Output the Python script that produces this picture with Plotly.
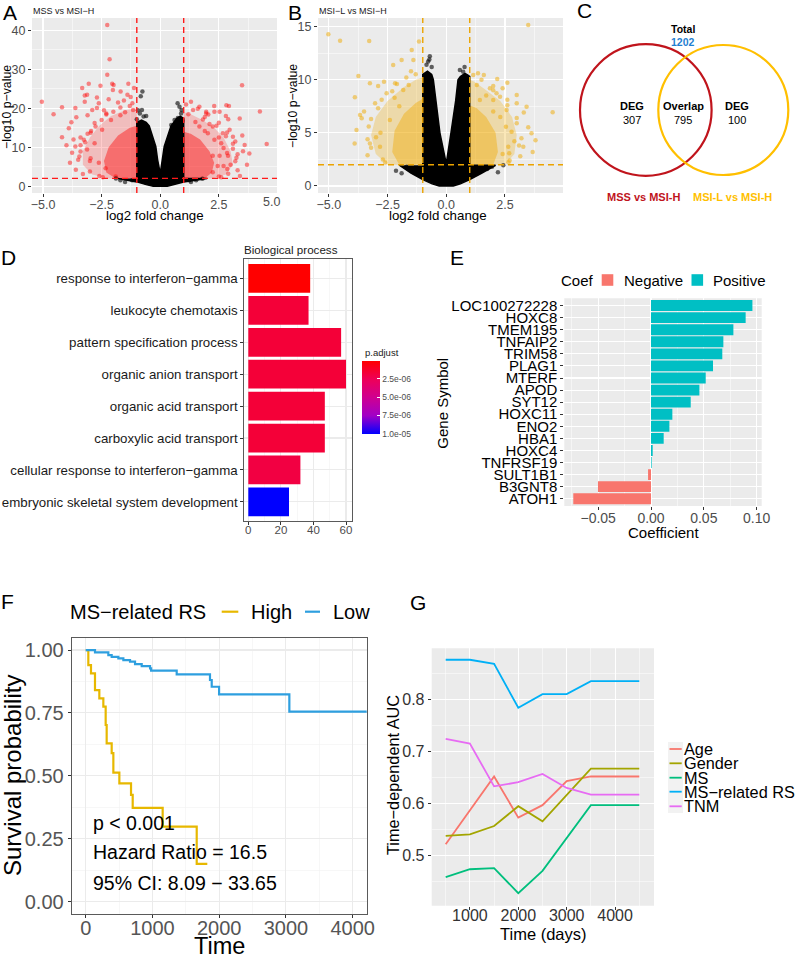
import plotly.graph_objects as go

W, H = 797, 959
FONT = "Liberation Sans, Arial, Helvetica, sans-serif"
MINUS = "\u2212"

# ======================= DATA =======================
# ---- A: volcano MSS vs MSI-H ----
a_fc_cut = [-1.0, 1.0]
a_p_cut = 2.0
a_sig_fc = [-5.05, -4.55, -4.19, -4.19, -3.90, -3.79, -3.62, -3.58, -3.33, -3.22, -3.12, -3.05, -2.55,
            -2.26, -2.16, -2.26, -2.05, -2.02, -1.69, -1.99, -1.36, -1.12, -1.26, -1.19, -1.16, -3.22,
            -2.90, -2.62, -2.30, -3.62, -3.40, -3.76, -3.12, -3.26, -2.97, -2.76, -2.48, -2.97, -2.62,
            -2.33, -1.90, -2.80, -3.00, -2.10, -1.50, -2.40, -3.40, -1.80, -1.40, -2.70, -1.70,
            -3.50, -3.40, -3.10, -2.80, -2.30, -1.70, -3.00, -2.60,
            -3.60, -3.45, -3.20, -2.95, -2.50, -2.00, -1.30, -2.70, -3.10, -3.70, -3.30, -2.45,
            -4.00, -3.85, -1.55, -2.20,
            4.25, 4.54, 3.49, 3.60, 3.53, 3.39, 2.93, 2.82, 2.53, 2.31, 1.96, 1.67, 1.31, 1.96, 2.85,
            2.89, 2.86, 2.45, 2.53, 2.24, 2.03, 2.24, 1.82, 1.67, 2.31, 2.60, 2.67, 2.96, 3.10, 2.70,
            2.24, 1.50, 2.10, 1.20, 2.50, 3.30, 3.00, 1.90, 2.70, 3.20, 2.90,
            3.20, 3.10, 2.80, 2.40, 1.90, 1.40, 2.90, 2.50,
            3.30, 3.25, 3.10, 2.85, 2.50, 2.05, 1.60, 2.80, 3.50, 3.40, 2.60, 3.80, 3.70, 1.10, 2.30]
a_sig_p = [21.7, 18.5, 20.3, 12.6, 14.9, 16.4, 20.1, 17.7, 25.2, 23.3, 23.5, 26.3, 25.8,
           41.4, 32.6, 28.6, 26.3, 24.7, 24.3, 26.0, 26.3, 25.2, 22.9, 21.3, 19.6, 21.7,
           19.6, 21.3, 18.7, 10.2, 8.9, 8.6, 9.4, 11.9, 13.7, 15.3, 14.5, 7.2, 6.0,
           4.6, 2.5, 11.0, 6.5, 17.0, 19.0, 19.5, 12.5, 21.5, 23.5, 22.8, 18.2,
           6.8, 10.5, 13.5, 16.2, 18.4, 20.2, 3.8, 2.6,
           4.2, 7.6, 11.3, 14.2, 17.0, 19.1, 20.6, 20.1, 18.2, 12.0, 3.1, 2.3,
           10.5, 6.0, 22.0, 22.3,
           19.2, 10.85, 25.9, 10.6, 9.0, 17.4, 20.6, 20.8, 19.1, 19.1, 19.1, 20.4, 21.7, 18.7, 8.5,
           7.8, 4.4, 5.2, 7.8, 7.8, 13.6, 15.3, 17.1, 15.3, 11.9, 11.0, 13.6, 14.5, 12.7, 5.2,
           3.6, 16.5, 16.0, 18.5, 12.5, 8.2, 5.5, 14.2, 9.8, 11.5, 17.2,
           6.4, 9.6, 12.8, 15.5, 17.8, 19.6, 3.2, 2.5,
           4.1, 7.3, 10.9, 13.8, 16.3, 18.4, 19.9, 18.0, 13.0, 2.6, 2.3, 8.4, 5.5, 21.0, 20.6]
a_ns_fc = [-0.76, -0.83, -0.78, -0.87, -0.71, -1.00, 0.74, 0.82, 0.89, 0.61, 0.91, 0.47,
           -1.89, -1.70, -1.50, 1.24, 1.31, 1.53, -0.95, -0.60, 0.75, 0.95, 1.80, -1.20]
a_ns_p = [24.3, 23.1, 19.6, 18.7, 17.9, 17.2, 21.3, 20.4, 18.7, 17.0, 19.6, 15.7,
          1.98, 1.55, 1.10, 1.55, 1.10, 1.55, 19.5, 18.0, 17.5, 16.8, 1.9, 1.5]
# outline of the saturated (overplotted) black cloud of non-significant genes
a_ns_cloud_fc = [-1.8, -1.4, -1.0, -0.6, -0.3, 0.3, 0.6, 1.0, 1.5, 2.0, 1.0, 1.0, 0.85, 0.7,
                 0.46, 0.17, 0.08, 0.0, -0.11, -0.19, -0.47, -0.6, -0.8, -1.0, -1.0]
a_ns_cloud_p = [1.95, 1.5, 1.1, 0.4, 0.0, 0.0, 0.4, 1.1, 1.5, 1.95, 1.95, 17.4, 18.0, 17.4,
                15.5, 10.2, 6.5, 3.3, 6.7, 10.2, 15.5, 16.4, 17.0, 16.4, 1.95]
# outlines of the overplotted significant clouds (two density levels)
a_sig_cloud1_fc = [-1.0, -2.2, -2.9, -3.3, -3.3, -3.0, -2.6, -2.1, -1.5, -1.0, None,
                   1.0, 2.2, 2.8, 3.1, 3.0, 2.7, 2.3, 1.8, 1.3, 1.0]
a_sig_cloud1_p = [2.0, 2.0, 3.0, 5.5, 9.0, 12.5, 15.5, 18.0, 19.5, 20.0, None,
                  2.0, 2.0, 3.0, 5.5, 9.0, 12.5, 15.0, 17.0, 18.5, 19.0]
a_sig_cloud2_fc = [-1.0, -1.9, -2.3, -2.4, -2.2, -1.8, -1.3, -1.0, None,
                   1.0, 1.9, 2.2, 2.3, 2.1, 1.7, 1.3, 1.0]
a_sig_cloud2_p = [2.0, 2.0, 3.5, 6.5, 10.0, 13.0, 15.0, 15.5, None,
                  2.0, 2.0, 3.5, 6.0, 9.0, 12.0, 13.5, 14.0]

# ---- B: volcano MSI-L vs MSI-H ----
b_fc_cut = [-1.0, 1.0]
b_p_cut = 2.0
b_sig_fc = [-5.02, -4.52, -3.28, -3.74, -3.89, -3.67, -3.60, -3.82, -3.03, -2.65, -2.26, -1.90, -1.47,
            -1.40, -1.16, -2.99, -3.25, -2.82, -3.25, -2.54, -2.18, -1.83, -2.00, -2.40, -1.60, -2.80,
            -1.30, -2.20, -3.20, -3.30, -2.90, -2.30, -1.70, -2.70,
            -3.35, -3.35, -3.20, -2.75, -2.10, -1.50, -3.50, -2.60, -3.90, -2.90,
            3.49, 1.15, 1.60, 2.17, 2.60, 2.14, 2.00, 3.00, 3.00, 2.57, 2.54, 2.78, 2.64, 2.68, 3.42,
            3.49, 3.28, 2.29, 1.86, 1.43, 4.53, 3.63, 3.68, 1.30, 2.30, 2.00, 1.70, 2.90, 2.40,
            3.10, 3.00, 2.60, 2.00, 1.50, 2.70,
            3.15, 3.20, 3.00, 2.60, 2.00, 1.35, 3.30, 2.65, 3.80, 2.40]
b_sig_p = [14.27, 13.67, 13.64, 10.35, 8.34, 6.68, 6.37, 5.27, 7.78, 9.81, 11.38, 11.85, 12.79,
           11.85, 13.58, 4.58, 4.00, 3.70, 9.66, 8.72, 9.66, 9.03, 7.50, 6.20, 9.50, 5.00,
           10.50, 8.30, 3.60, 5.60, 7.30, 8.90, 10.20, 2.50,
           2.9, 4.4, 6.3, 8.1, 9.6, 10.8, 7.0, 2.2, 4.0, 9.4,
           15.15, 10.44, 10.44, 10.07, 9.72, 8.72, 8.09, 8.56, 7.78, 7.15, 5.58, 5.11, 3.70, 3.07, 7.46,
           5.52, 3.70, 8.40, 9.19, 8.09, 6.93, 4.96, 3.20, 9.50, 6.50, 7.00, 8.50, 4.20, 3.00,
           3.80, 5.90, 7.60, 9.00, 10.00, 2.40,
           2.8, 4.5, 6.4, 8.1, 9.4, 10.6, 6.9, 2.2, 4.3, 9.2]
b_ns_fc = [-0.77, -0.84, -0.62, 0.72, 0.58, 0.87, -0.90, -2.14, -1.68, 2.43, 1.95, 1.74, -0.70,
           0.78, -1.90, 2.20, -0.72]
b_ns_p = [11.7, 11.4, 11.2, 10.75, 10.9, 10.3, 9.8, 1.44, 1.8, 1.95, 1.8, 1.6, 12.2,
          11.2, 1.2, 1.3, 11.9]
b_ns_cloud_fc = [-2.0, -1.5, -1.0, -0.6, -0.3, 0.3, 0.6, 1.0, 1.5, 2.1, 1.0, 1.0, 0.8, 0.6, 0.5,
                 0.4, 0.2, 0.0, -0.27, -0.45, -0.55, -0.62, -0.8, -1.0, -1.0]
b_ns_cloud_p = [1.95, 1.2, 0.6, 0.2, 0.0, 0.0, 0.2, 0.6, 1.2, 1.95, 1.95, 10.3, 10.6, 10.3, 10.0,
                8.0, 5.0, 2.1, 5.0, 8.0, 10.0, 10.5, 10.8, 10.5, 1.95]
b_sig_cloud1_fc = [-1.0, -2.5, -3.0, -3.2, -3.0, -2.5, -1.8, -1.3, -1.0, None,
                   1.0, 2.5, 2.9, 3.0, 2.8, 2.3, 1.7, 1.2, 1.0]
b_sig_cloud1_p = [2.0, 2.0, 3.0, 4.8, 6.5, 8.0, 9.3, 10.0, 10.2, None,
                  2.0, 2.0, 3.0, 4.8, 6.5, 8.0, 9.0, 9.8, 10.0]
b_sig_cloud2_fc = [-1.0, -2.0, -2.3, -2.2, -1.8, -1.3, -1.0, None,
                   1.0, 2.0, 2.2, 2.1, 1.7, 1.3, 1.0]
b_sig_cloud2_p = [2.0, 2.0, 3.2, 5.2, 6.8, 7.8, 8.2, None,
                  2.0, 2.0, 3.2, 5.0, 6.5, 7.3, 7.6]

# ---- C: Venn ----
venn_set_names = ["MSS vs MSI-H", "MSI-L vs MSI-H"]
venn_only = [307, 100]
venn_overlap = 795
venn_total = 1202

# ---- D: GO biological process ----
go_terms = ["response to interferon-gamma", "leukocyte chemotaxis", "pattern specification process",
            "organic anion transport", "organic acid transport", "carboxylic acid transport",
            "cellular response to interferon-gamma", "embryonic skeletal system development"]
go_counts = [38, 37, 57, 60, 47, 47, 32, 25]
go_padj = [2e-8, 1.6e-6, 1.6e-6, 1.6e-6, 1.6e-6, 1.6e-6, 1.9e-6, 1.0e-5]
go_cbar_ticks = [2.5e-6, 5.0e-6, 7.5e-6, 1.0e-5]
go_cbar_labels = ["2.5e-06", "5.0e-06", "7.5e-06", "1.0e-05"]

# ---- E: coefficients ----
genes = ["LOC100272228", "HOXC8", "TMEM195", "TNFAIP2", "TRIM58", "PLAG1", "MTERF", "APOD", "SYT12",
         "HOXC11", "ENO2", "HBA1", "HOXC4", "TNFRSF19", "SULT1B1", "B3GNT8", "ATOH1"]
coefs = [0.0960, 0.0896, 0.0780, 0.0685, 0.0675, 0.0587, 0.0518, 0.0458, 0.0376,
         0.0202, 0.0174, 0.0120, 0.0016, 0.0006, -0.0028, -0.0502, -0.0736]

# ---- F: Kaplan-Meier ----
km_high_t = [0, 39, 79, 139, 204, 264, 299, 314, 389, 414, 504, 679, 704, 1153, 1663, 1822]
km_high_s = [1.0, 0.940, 0.907, 0.841, 0.808, 0.775, 0.702, 0.629, 0.590, 0.513, 0.470, 0.424,
             0.373, 0.298, 0.150, 0.150]
km_low_t = [0, 139, 339, 389, 489, 564, 664, 739, 839, 964, 980, 1363, 1862, 1888, 1998, 3051, 4400]
km_low_s = [1.0, 0.991, 0.980, 0.973, 0.967, 0.960, 0.954, 0.944, 0.936, 0.927, 0.918, 0.903,
            0.881, 0.854, 0.824, 0.755, 0.755]

# ---- G: time-dependent AUC ----
auc_days = [500, 1000, 1500, 2000, 2500, 3000, 3500, 4000, 4500]
auc_age = [0.522, 0.587, 0.652, 0.573, 0.597, 0.643, 0.652, 0.652, 0.652]
auc_gender = [0.538, 0.541, 0.557, 0.595, 0.566, 0.617, 0.667, 0.667, 0.667]
auc_ms = [0.459, 0.474, 0.476, 0.428, 0.471, 0.534, 0.597, 0.597, 0.597]
auc_rs = [0.876, 0.876, 0.868, 0.784, 0.810, 0.810, 0.835, 0.835, 0.835]
auc_tnm = [0.724, 0.715, 0.633, 0.641, 0.657, 0.630, 0.617, 0.617, 0.617]
auc_names = ["Age", "Gender", "MS", "MS-related RS", "TNM"]

# ======================= HELPERS =======================
def xdom(l, r):
    return [l / W, r / W]


def ydom(t, b):
    return [1 - b / H, 1 - t / H]


def ann(text, x, y, size, color="black", xanchor="center", yanchor="middle", angle=0, bold=False):
    return dict(text=(f"<b>{text}</b>" if bold else text), x=x / W, y=1 - y / H,
                xref="paper", yref="paper", showarrow=False, textangle=angle,
                font=dict(family=FONT, size=size, color=color),
                xanchor=xanchor, yanchor=yanchor, borderpad=0)


def prect(x0, y0, x1, y1, fill):
    return dict(type="rect", xref="paper", yref="paper", x0=x0 / W, x1=x1 / W,
                y0=1 - y1 / H, y1=1 - y0 / H, fillcolor=fill, line=dict(width=0), layer="above")


def pline(x0, y0, x1, y1, color, width):
    return dict(type="line", xref="paper", yref="paper", x0=x0 / W, x1=x1 / W,
                y0=1 - y0 / H, y1=1 - y1 / H, line=dict(color=color, width=width), layer="above")


fig = go.Figure()
shapes = []
annotations = []

# ======================= PANEL A =======================
for fx, fy, col in [(a_sig_cloud1_fc, a_sig_cloud1_p, "rgba(255,50,50,0.25)"),
                    (a_sig_cloud2_fc, a_sig_cloud2_p, "rgba(255,0,0,0.42)")]:
    fig.add_trace(go.Scatter(x=fx, y=fy, fill="toself", fillcolor=col, mode="lines",
                             line=dict(width=0), hoverinfo="skip", xaxis="x", yaxis="y"))
fig.add_trace(go.Scatter(x=a_ns_cloud_fc, y=a_ns_cloud_p, fill="toself", fillcolor="black", mode="lines",
                         line=dict(width=1.5, color="black"), xaxis="x", yaxis="y"))
fig.add_trace(go.Scatter(x=a_sig_fc, y=a_sig_p, mode="markers",
                         marker=dict(size=4.5, color="rgba(255,0,0,0.45)", line=dict(width=0)),
                         xaxis="x", yaxis="y"))
fig.add_trace(go.Scatter(x=a_ns_fc, y=a_ns_p, mode="markers",
                         marker=dict(size=4.5, color="rgba(0,0,0,0.6)", line=dict(width=0)),
                         xaxis="x", yaxis="y"))
for v in a_fc_cut:
    shapes.append(dict(type="line", xref="x", yref="y domain", x0=v, x1=v, y0=0, y1=1,
                       line=dict(color="#FF1A1A", width=1.4, dash="6px,4px"), layer="above"))
shapes.append(dict(type="line", xref="x domain", yref="y", x0=0, x1=1, y0=a_p_cut, y1=a_p_cut,
                   line=dict(color="#FF1A1A", width=1.4, dash="6px,4px"), layer="above"))

# ======================= PANEL B =======================
for fx, fy, col in [(b_sig_cloud1_fc, b_sig_cloud1_p, "rgba(240,175,20,0.30)"),
                    (b_sig_cloud2_fc, b_sig_cloud2_p, "rgba(240,170,0,0.42)")]:
    fig.add_trace(go.Scatter(x=fx, y=fy, fill="toself", fillcolor=col, mode="lines",
                             line=dict(width=0), hoverinfo="skip", xaxis="x2", yaxis="y2"))
fig.add_trace(go.Scatter(x=b_ns_cloud_fc, y=b_ns_cloud_p, fill="toself", fillcolor="black", mode="lines",
                         line=dict(width=1.5, color="black"), xaxis="x2", yaxis="y2"))
fig.add_trace(go.Scatter(x=b_sig_fc, y=b_sig_p, mode="markers",
                         marker=dict(size=4.5, color="rgba(240,170,0,0.5)", line=dict(width=0)),
                         xaxis="x2", yaxis="y2"))
fig.add_trace(go.Scatter(x=b_ns_fc, y=b_ns_p, mode="markers",
                         marker=dict(size=4.5, color="rgba(0,0,0,0.6)", line=dict(width=0)),
                         xaxis="x2", yaxis="y2"))
for v in b_fc_cut:
    shapes.append(dict(type="line", xref="x2", yref="y2 domain", x0=v, x1=v, y0=0, y1=1,
                       line=dict(color="#EBA300", width=1.4, dash="6px,4px"), layer="above"))
shapes.append(dict(type="line", xref="x2 domain", yref="y2", x0=0, x1=1, y0=b_p_cut, y1=b_p_cut,
                   line=dict(color="#EBA300", width=1.4, dash="6px,4px"), layer="above"))

# grey panel backgrounds (A, B, E, G)
for ax in ["x", "x2", "x4", "x6"]:
    ay = ax.replace("x", "y")
    shapes.append(dict(type="rect", xref=f"{ax} domain", yref=f"{ay} domain", x0=0, x1=1, y0=0, y1=1,
                       fillcolor="#EBEBEB", line=dict(width=0), layer="below"))

# ======================= PANEL C (Venn) =======================
venn_cx = [645.8, 723.3]   # circle centres (page pixels)
venn_cy = [110.0, 110.0]
venn_r = [65.8, 65.0]
venn_cols = ["#C0141C", "#FFBF00"]
for cx, cy, r, c in zip(venn_cx, venn_cy, venn_r, venn_cols):
    shapes.append(dict(type="circle", xref="paper", yref="paper",
                       x0=(cx - r) / W, x1=(cx + r) / W, y0=1 - (cy + r) / H, y1=1 - (cy - r) / H,
                       line=dict(color=c, width=2.2), fillcolor="rgba(0,0,0,0)", layer="above"))
annotations += [
    ann("Total", 683.3, 29, 10.5, bold=True),
    ann(str(venn_total), 683.3, 42, 10.5, color="#1F7FD1", bold=True),
    ann("DEG", 631.7, 106, 11, bold=True),
    ann(str(venn_only[0]), 631.7, 119.5, 11),
    ann("Overlap", 683.3, 106, 11, bold=True),
    ann(str(venn_overlap), 683.3, 119.5, 11),
    ann("DEG", 736.7, 106, 11, bold=True),
    ann(str(venn_only[1]), 736.7, 119.5, 11),
    ann(venn_set_names[0], 643.3, 196.5, 11, color="#C0141C", bold=True),
    ann(venn_set_names[1], 732.3, 196.5, 11, color="#FFBF00", bold=True),
]

# ======================= PANEL D =======================
neg_p = [-p for p in go_padj]
fig.add_trace(go.Bar(
    x=go_counts, y=go_terms, orientation="h", width=0.9, xaxis="x3", yaxis="y3",
    marker=dict(color=neg_p, cmin=-max(go_padj), cmax=-min(go_padj),
                colorscale=[[0, "#0000FF"], [0.25, "#A100C6"], [0.5, "#CF0090"], [0.75, "#EE0058"],
                            [1, "#FF0000"]],
                line=dict(width=0), showscale=True,
                colorbar=dict(x=361.7 / W, xanchor="left", xpad=0, ypad=0,
                              y=1 - 360.7 / H, yanchor="top", len=72.6, lenmode="pixels",
                              thickness=17.6, thicknessmode="pixels", outlinewidth=0,
                              tickvals=[-v for v in go_cbar_ticks], ticktext=go_cbar_labels,
                              ticks="inside", ticklen=3, tickcolor="white",
                              tickfont=dict(family=FONT, size=8.5, color="#4D4D4D")))))

# ======================= PANEL E =======================
neg_genes = [g for g, c in zip(genes, coefs) if c < 0]
neg_vals = [c for c in coefs if c < 0]
pos_genes = [g for g, c in zip(genes, coefs) if c >= 0]
pos_vals = [c for c in coefs if c >= 0]
fig.add_trace(go.Bar(x=neg_vals, y=neg_genes, orientation="h", width=0.9, name="Negative",
                     marker=dict(color="#F8766D", line=dict(width=0)), xaxis="x4", yaxis="y4"))
fig.add_trace(go.Bar(x=pos_vals, y=pos_genes, orientation="h", width=0.9, name="Positive",
                     marker=dict(color="#00BFC4", line=dict(width=0)), xaxis="x4", yaxis="y4"))

# ======================= PANEL F =======================
fig.add_trace(go.Scatter(x=km_high_t, y=km_high_s, mode="lines", line_shape="hv", name="High",
                         line=dict(color="#E7B800", width=2.2), xaxis="x5", yaxis="y5"))
fig.add_trace(go.Scatter(x=km_low_t, y=km_low_s, mode="lines", line_shape="hv", name="Low",
                         line=dict(color="#2E9FDF", width=2.2), xaxis="x5", yaxis="y5"))

# ======================= PANEL G =======================
auc_cols = ["#F8766D", "#A3A500", "#00BF7D", "#00B0F6", "#E76BF3"]
for name, vals, col in zip(auc_names, [auc_age, auc_gender, auc_ms, auc_rs, auc_tnm], auc_cols):
    fig.add_trace(go.Scatter(x=auc_days, y=vals, mode="lines", name=name,
                             line=dict(color=col, width=1.8), xaxis="x6", yaxis="y6"))

# ======================= AXES =======================
TICKC = "#333333"


def grey_axis(domain, rng, tickvals, ticktext, minor, anchor, size, color="#4D4D4D", standoff=0):
    return dict(domain=domain, range=rng, tickvals=tickvals, ticktext=ticktext, anchor=anchor,
                showgrid=True, gridcolor="white", gridwidth=1.1, zeroline=False, showline=False,
                ticks="outside", ticklen=3, tickcolor=TICKC, tickwidth=1,
                ticklabelstandoff=standoff,
                tickfont=dict(family=FONT, size=size, color=color),
                minor=dict(tickvals=minor, showgrid=True, gridcolor="white", gridwidth=0.5, ticks=""),
                fixedrange=True)


def bw_axis(domain, rng, tickvals, ticktext, minor, anchor, size, color="#4D4D4D", standoff=0):
    d = grey_axis(domain, rng, tickvals, ticktext, minor, anchor, size, color, standoff)
    d.update(gridcolor="#EBEBEB", showline=True, linecolor="#5A5A5A", linewidth=1, mirror=True)
    d["minor"] = dict(tickvals=minor, showgrid=True, gridcolor="#F2F2F2", gridwidth=0.6, ticks="")
    return d


layout_axes = {}
# A
layout_axes["xaxis"] = grey_axis(xdom(32, 277), [-5.47, 4.98], [-5, -2.5, 0, 2.5],
                                 [MINUS + "5.0", MINUS + "2.5", "0.0", "2.5"], [-3.75, -1.25, 1.25, 3.75],
                                 "y", 12.5, standoff=-3)
layout_axes["yaxis"] = grey_axis(ydom(18, 193), [-1.75, 43.2], [0, 10, 20, 30, 40], None, [5, 15, 25, 35],
                                 "x", 12.5)
# B
layout_axes["xaxis2"] = grey_axis(xdom(318, 563), [-5.46, 4.97], [-5, -2.5, 0, 2.5],
                                  [MINUS + "5.0", MINUS + "2.5", "0.0", "2.5"], [-3.75, -1.25, 1.25, 3.75],
                                  "y2", 12.5, standoff=-3)
layout_axes["yaxis2"] = grey_axis(ydom(18, 193), [-0.66, 15.8], [0, 5, 10, 15], None, [2.5, 7.5, 12.5],
                                  "x2", 12.5)
# D
layout_axes["xaxis3"] = bw_axis(xdom(244.3, 351.7), [-2.46, 63.5], [0, 20, 40, 60], None, [10, 30, 50],
                                "y3", 11.5, standoff=-5)
layout_axes["yaxis3"] = bw_axis(ydom(259.3, 521), [7.6, -0.6], None, None, [], "x3", 13.3, "#1A1A1A")
layout_axes["yaxis3"].update(type="category", categoryorder="array", categoryarray=go_terms,
                             tickvals=go_terms, ticktext=[t.replace("-", MINUS) for t in go_terms])
# E
layout_axes["xaxis4"] = grey_axis(xdom(564.3, 761.7), [-0.0821, 0.1048], [-0.05, 0, 0.05, 0.10],
                                  [MINUS + "0.05", "0.00", "0.05", "0.10"], [-0.075, -0.025, 0.025, 0.075],
                                  "y4", 14, standoff=-4)
layout_axes["yaxis4"] = grey_axis(ydom(298.3, 506), [16.6, -0.6], None, None, [], "x4", 15, "black")
layout_axes["yaxis4"].update(type="category", categoryorder="array", categoryarray=genes,
                             tickvals=genes, ticktext=genes)
# F
layout_axes["xaxis5"] = bw_axis(xdom(71.7, 366.7), [-210, 4210], [0, 1000, 2000, 3000, 4000], None,
                                [500, 1500, 2500, 3500], "y5", 20, "#555555", standoff=-7)
layout_axes["yaxis5"] = bw_axis(ydom(637.7, 914), [-0.049, 1.049], [0, 0.25, 0.5, 0.75, 1.0],
                                ["0.00", "0.25", "0.50", "0.75", "1.00"], [0.125, 0.375, 0.625, 0.875],
                                "x5", 20, "#555555")
# G
layout_axes["xaxis6"] = grey_axis(xdom(431.7, 654), [211, 4804], [1000, 2000, 3000, 4000], None,
                                  [500, 1500, 2500, 3500, 4500], "y6", 16, "#333333", standoff=-8)
layout_axes["yaxis6"] = grey_axis(ydom(648.3, 905.7), [0.404, 0.898], [0.5, 0.6, 0.7, 0.8], None,
                                  [0.45, 0.55, 0.65, 0.75, 0.85], "x6", 16, "#333333")

# ======================= TEXT =======================
annotations += [
    # panel letters
    ann("A", 2, 13, 21, xanchor="left"),
    ann("B", 287, 13, 21, xanchor="left"),
    ann("C", 576, 11, 21, xanchor="left"),
    ann("D", 0, 257, 21, xanchor="left"),
    ann("E", 449, 257, 21, xanchor="left"),
    ann("F", 0, 601, 21, xanchor="left"),
    ann("G", 409, 602, 21, xanchor="left"),
    # A
    ann("MSS vs MSI" + MINUS + "H", 32, 11, 9, xanchor="left", color="#1A1A1A"),
    ann(MINUS + "log10 p" + MINUS + "value", 7, 107, 12.3, angle=-90),
    ann("log2 fold change", 155, 215.5, 13.3),
    ann("5.0", 262, 201.5, 12.5, color="#4D4D4D", xanchor="left"),
    # B
    ann("MSI" + MINUS + "L vs MSI" + MINUS + "H", 318, 11, 9, xanchor="left", color="#1A1A1A"),
    ann(MINUS + "log10 p" + MINUS + "value", 293, 106, 12.3, angle=-90),
    ann("log2 fold change", 438, 215.5, 13.3),
    # D
    ann("Biological process", 243.3, 249, 11.6, xanchor="left", color="#1A1A1A"),
    ann("p.adjust", 364, 352, 9.5, xanchor="left", color="#1A1A1A"),
    # E
    ann("Coef", 577, 280, 15),
    ann("Negative", 622.7, 280, 15, xanchor="left"),
    ann("Positive", 712.3, 280, 15, xanchor="left"),
    ann("Gene Symbol", 441.7, 403, 15, angle=-90),
    ann("Coefficient", 663, 532, 15),
    # F
    ann("MS" + MINUS + "related RS", 69, 611.7, 20, xanchor="left"),
    ann("High", 250, 611.7, 20, xanchor="left"),
    ann("Low", 331.7, 611.7, 20, xanchor="left"),
    ann("Survival probability", 12, 776, 24, angle=-90),
    ann("Time", 219.3, 946, 23.5),
    ann("p < 0.001", 91.7, 823.3, 19.5, xanchor="left"),
    ann("Hazard Ratio = 16.5", 91.7, 852.3, 19.5, xanchor="left"),
    ann("95% CI: 8.09 " + MINUS + " 33.65", 91.7, 882.7, 19.5, xanchor="left"),
    # G
    ann("Time" + MINUS + "dependent AUC", 393, 775, 16.3, angle=-90),
    ann("Time (days)", 543, 933.5, 16.5),
]

# manual legends
shapes += [
    prect(601.7, 274.2, 613.3, 285.8, "#F8766D"),
    prect(691.5, 274.2, 703.1, 285.8, "#00BFC4"),
    pline(221.7, 611.7, 238.3, 611.7, "#E7B800", 2.2),
    pline(305.0, 611.7, 320.0, 611.7, "#2E9FDF", 2.2),
    prect(668.0, 742.0, 683.0, 813.0, "#F2F2F2"),
]
g_leg_y = [749, 763.3, 777.7, 791.7, 806.3]
for name, col, yy in zip(auc_names, auc_cols, g_leg_y):
    shapes.append(pline(669.5, yy, 681.7, yy, col, 1.8))
    annotations.append(ann(name.replace("-", MINUS), 683.3, yy, 16.3, xanchor="left"))

fig.update_layout(
    width=W, height=H, margin=dict(l=0, r=0, t=0, b=0, autoexpand=False),
    paper_bgcolor="white", plot_bgcolor="white", showlegend=False,
    font=dict(family=FONT, size=12, color="black"),
    bargap=0.1, barmode="overlay",
    shapes=shapes, annotations=annotations, **layout_axes,
)

fig.write_html("out.html", config={"displayModeBar": False, "staticPlot": True},
               post_script="document.body.style.margin='0';")
